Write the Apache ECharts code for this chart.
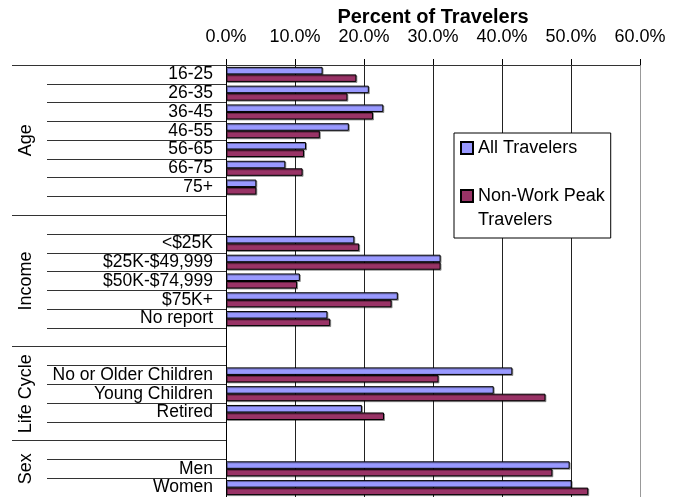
<!DOCTYPE html>
<html>
<head>
<meta charset="utf-8">
<script src="https://cdn.jsdelivr.net/npm/echarts@6/dist/echarts.min.js"></script>
<style>
html,body{margin:0;padding:0;background:#fff;}
#chart{width:682px;height:497px;}
</style>
</head>
<body>
<div id="chart"></div>
<script>
// ---- data ----
var categories = ['16-25','26-35','36-45','46-55','56-65','66-75','75+','',
  '','<$25K','$25K-$49,999','$50K-$74,999','$75K+','No report','',
  '','No or Older Children','Young Children','Retired','',
  '','Men','Women'];
var allTravelers = [14.0, 20.7, 22.8, 17.8, 11.6, 8.6, 4.4, null,
  null, 18.6, 31.1, 10.7, 24.9, 14.7, null,
  null, 41.5, 38.8, 19.7, null,
  null, 49.8, 50.1];
var nonWorkPeak = [18.9, 17.6, 21.3, 13.6, 11.3, 11.1, 4.4, null,
  null, 19.3, 31.1, 10.3, 24.0, 15.1, null,
  null, 30.8, 46.3, 22.9, null,
  null, 47.3, 52.5];
var groupNames = ['Age', 'Income', 'Life Cycle', 'Sex'];
var groupSizes = [8, 7, 5, 3];
var xTicks = [0, 10, 20, 30, 40, 50, 60];
var seriesNames = ['All Travelers', 'Non-Work Peak Travelers'];

// group boundaries and centres (in category units)
var groupBounds = [], groupCenters = [];
var acc = 0;
for (var i = 0; i < groupSizes.length; i++) {
  groupBounds.push(acc);
  groupCenters.push(acc + groupSizes[i] / 2);
  acc += groupSizes[i];
}

var FONT = "'Liberation Sans', Arial, sans-serif";
var chart = echarts.init(document.getElementById('chart'));
var shadow = {shadowColor: 'rgba(0,0,0,0.35)', shadowOffsetX: 1, shadowOffsetY: 1, shadowBlur: 0};

chart.setOption({
  animation: false,
  textStyle: {fontFamily: FONT, color: '#000'},
  grid: {left: 226, right: 42, top: 65, bottom: 0, containLabel: false, outerBoundsMode: 'none'},
  legend: {
    orient: 'vertical',
    left: 454, top: 133,
    padding: [3, 6, 6, 6],
    itemGap: 0,
    itemWidth: 12, itemHeight: 12,
    icon: 'rect',
    backgroundColor: '#fff',
    borderColor: '#000', borderWidth: 1,
    textStyle: {fontFamily: FONT, fontSize: 18, color: '#000', lineHeight: 24},
    formatter: function (n) {
      return n === seriesNames[1] ? '\nNon-Work Peak\nTravelers' : n;
    },
    data: seriesNames
  },
  xAxis: {
    type: 'value', position: 'top',
    min: xTicks[0], max: xTicks[xTicks.length - 1], interval: 10,
    name: 'Percent of Travelers', nameLocation: 'middle', nameGap: 38,
    nameMoveOverlap: false,
    nameTextStyle: {fontFamily: FONT, fontSize: 20, fontWeight: 'bold', color: '#000'},
    axisLine: {show: true, lineStyle: {color: '#333', width: 1}},
    axisTick: {show: true, length: 6, lineStyle: {color: '#000'}},
    axisLabel: {fontSize: 18, color: '#000', margin: 19, fontFamily: FONT,
      formatter: function (v) { return v.toFixed(1) + '%'; }},
    splitLine: {show: true, lineStyle: {color: ['#222','#222','#222','#222','#222','#222','#999'], width: 1}}
  },
  yAxis: [{
    type: 'category', inverse: true, data: categories,
    axisLine: {show: true, lineStyle: {color: '#000', width: 1}},
    axisTick: {show: true, length: 179, interval: 0, lineStyle: {color: '#333'}},
    axisLabel: {interval: 0, fontSize: 17.5, margin: 13, color: '#000', fontFamily: FONT},
    splitLine: {show: false}
  }, {
    type: 'value', inverse: true, position: 'left',
    min: 0, max: acc,
    axisLine: {show: false},
    axisTick: {show: true, length: 214, customValues: groupBounds, lineStyle: {color: '#333'}},
    axisLabel: {
      customValues: groupCenters, rotate: 90, margin: 191,
      fontSize: 18, color: '#000', fontFamily: FONT,
      formatter: function (v) {
        var k = groupCenters.indexOf(v);
        return k >= 0 ? groupNames[k] : '';
      }
    },
    splitLine: {show: false}
  }],
  series: [{
    name: seriesNames[0], type: 'bar', yAxisIndex: 0,
    data: allTravelers,
    barGap: '0%', barCategoryGap: '20%',
    itemStyle: Object.assign({color: '#9999FF', borderColor: '#000', borderWidth: 1}, shadow)
  }, {
    name: seriesNames[1], type: 'bar', yAxisIndex: 0,
    data: nonWorkPeak,
    barGap: '0%', barCategoryGap: '20%',
    itemStyle: Object.assign({color: '#993366', borderColor: '#000', borderWidth: 1}, shadow)
  }]
});
</script>
</body>
</html>
